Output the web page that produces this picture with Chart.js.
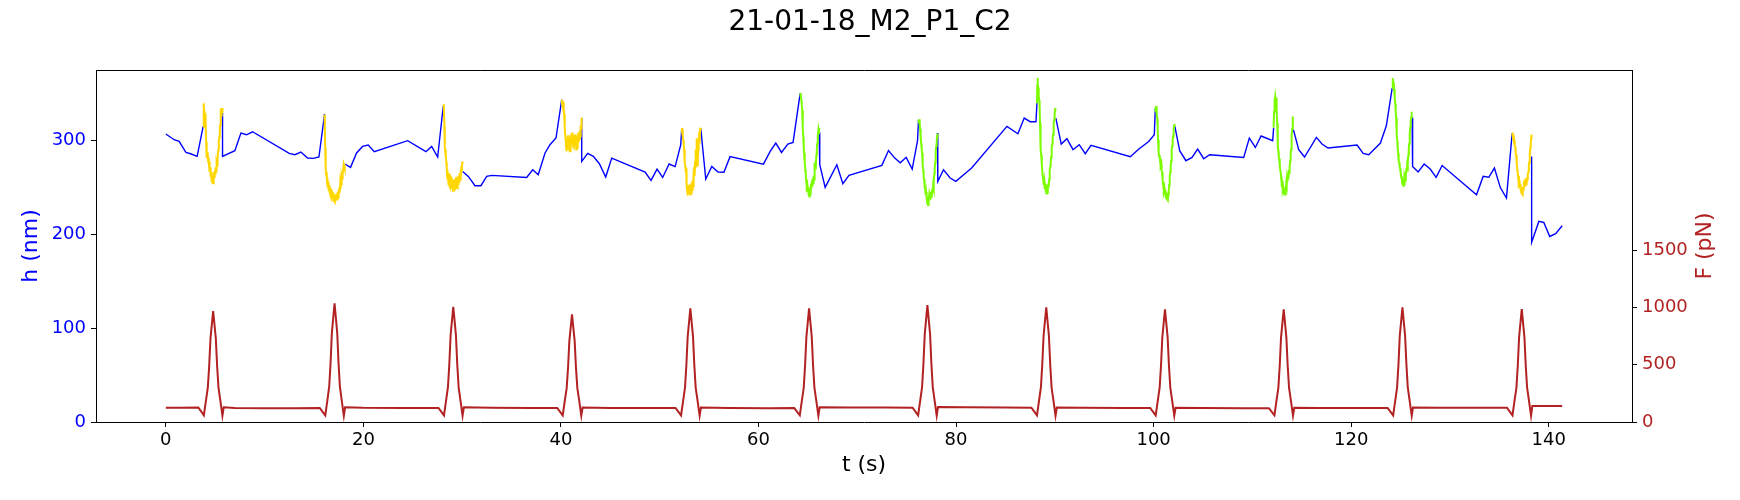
<!DOCTYPE html>
<html><head><meta charset="utf-8">
<script src="https://cdn.jsdelivr.net/npm/chart.js@4.4.1/dist/chart.umd.min.js"></script>
<style>html,body{margin:0;padding:0;background:#fff}canvas{display:block}</style>
</head><body>
<canvas id="c" width="1740" height="500"></canvas>
<script>
const chartTitle = '21-01-18_M2_P1_C2';
const xLabel = 't (s)';
const hLabel = 'h (nm)';
const fLabel = 'F (pN)';
const xTicks = [0, 20, 40, 60, 80, 100, 120, 140];
const hTicks = [0, 100, 200, 300];
const fTicks = [0, 500, 1000, 1500];

// sparse height trace (blue), null = gap under a pulse
const hBlue = [
[0,306.4],[0.84,300.3],[1.35,298.5],[2.03,286.8],[2.5,285.4],[3.17,282.6],[3.78,314.5],[4.8,null],
[5.74,328.7],[5.74,282.6],[6.99,288.6],[7.6,307.4],[8.17,305.6],[8.78,308.8],[12.49,285.8],[13.06,284.4],[13.67,287.2],[14.35,280.8],[14.92,280.5],[15.5,281.9],[16.07,327.6],[17,null],
[18.13,274.5],[18.7,270.9],[19.31,286.2],[19.92,293.2],[20.49,294.7],[21.1,287.6],[24.48,299.3],[26.33,287.6],[26.91,293.2],[27.52,281.9],[28.09,336.5],[29,null],
[30.05,266.6],[30.62,261.3],[31.3,251.4],[31.9,251.4],[32.48,261.3],[33.0,262.4],[36.53,260.2],[37.14,268.4],[37.7,263.1],[38.39,286.2],[38.89,295],[39.5,302.1],[40.08,342.9],[41,null],
[42.1,323.4],[42.1,277.2],[42.71,285.8],[43.28,282.6],[43.89,274.8],[44.53,260.6],[45.14,280.8],[48.52,266],[49.12,257],[49.73,269.1],[50.3,260.2],[50.95,274.5],[51.56,271.7],[52.13,295],[52.23,312.8],[53,null],
[54.15,312.8],[54.66,258.5],[55.27,271.9],[55.9,266],[56.5,265.7],[57.12,282.3],[60.5,274.3],[61.18,287.9],[61.75,296.8],[62.33,286.8],[62.97,295.7],[63.5,297.5],[64.22,350],[65,null],
[66.14,308],[66.2,273.7],[66.75,249.6],[67.93,273.7],[68.54,253.5],[69.16,262.4],[72.49,273],[73.16,288.9],[73.77,281],[74.35,275.7],[74.95,281.6],[75.56,269.1],[76.1,299.3],[76.2,321.6],[77,null],
[78.12,307.4],[78.15,256],[78.73,268.4],[79.4,259.6],[79.98,256],[81.1,266],[81.6,270.6],[85.15,314.5],[86.26,306.7],[86.9,323.4],[87.5,319.5],[88.09,319.5],[88.19,339.4],[89,null],
[90.1,323.4],[90.65,295.7],[91.22,301.4],[91.84,289.7],[92.47,295],[93.08,285.4],[93.66,294.3],[97.64,282.2],[98.48,290.2],[99.5,298.5],[100.07,305.6],[100.17,334],[101,null],
[102.15,314.5],[102.64,288.6],[103.27,278],[103.89,281.5],[104.46,290.4],[105.07,280.1],[105.67,284.4],[109.12,281.5],[109.69,302.1],[110.3,292.1],[110.88,304.3],[112.05,299.3],[112.15,312.8],[113,null],
[114.15,311],[114.69,289.7],[115.28,281.9],[116.48,302.8],[117.05,295.7],[117.66,291.5],[120.6,294.7],[121.21,285.8],[121.78,284.4],[122.96,296.8],[123.56,315.2],[124.15,355.3],[125,null],
[126.17,324],[126.22,271.9],[126.78,266],[127.39,274.5],[128.0,269.1],[128.6,260.2],[129.21,272.9],[132.69,241.8],[133.36,261.3],[133.93,260.4],[134.5,270.2],[135.1,249.4],[135.72,238.3],[136.3,307.4],[137,null],
[138.27,282.6],[138.27,191.1],[139.0,213.4],[139.5,212.3],[140.1,197.4],[140.7,200.3],[141.36,208.8]
];

// dense height traces during force pulses
const hPulse1 = [[3.78,314],[3.82,330],[3.85,339],[3.88,326],[3.91,331],[3.95,322],[3.98,328],[4.01,313],[4.05,317],[4.08,298],[4.12,288],[4.15,281],[4.18,287],[4.22,280],[4.26,285],[4.3,276],[4.34,281],[4.38,272],[4.42,277],[4.46,266],[4.5,271],[4.54,261],[4.58,266],[4.62,256],[4.66,262],[4.7,255],[4.74,262],[4.78,254],[4.82,262],[4.86,257],[4.9,266],[4.94,260],[4.98,268],[5.02,263],[5.06,271],[5.1,267],[5.14,275],[5.18,273],[5.22,281],[5.26,282],[5.3,289],[5.34,292],[5.38,299],[5.42,303],[5.46,308],[5.5,316],[5.54,320],[5.58,328],[5.62,326],[5.66,334],[5.7,330],[5.74,334]];
const hPulse2 = [[16.07,327],[16.1,310],[16.13,292],[16.17,276],[16.2,270],[16.24,262],[16.28,266],[16.32,255],[16.36,259],[16.4,250],[16.44,255],[16.48,246],[16.52,252],[16.56,244],[16.6,251],[16.64,242],[16.68,249],[16.72,240],[16.76,247],[16.8,239],[16.84,245],[16.88,237],[16.92,244],[16.96,236],[17.0,243],[17.04,235],[17.08,242],[17.12,234],[17.16,241],[17.2,235],[17.24,242],[17.28,236],[17.32,243],[17.36,237],[17.4,245],[17.44,239],[17.48,247],[17.52,241],[17.56,249],[17.6,244],[17.64,252],[17.68,248],[17.72,256],[17.76,253],[17.8,261],[17.84,259],[17.88,266],[17.92,264],[17.96,270],[18.0,267],[18.04,273],[18.08,270],[18.13,274]];
const hPulse3 = [[28.09,336],[28.13,338],[28.16,334],[28.2,315],[28.23,300],[28.26,292],[28.3,286],[28.33,290],[28.36,282],[28.4,276],[28.44,270],[28.47,262],[28.5,268],[28.54,258],[28.57,265],[28.6,252],[28.64,262],[28.68,253],[28.72,264],[28.76,251],[28.8,262],[28.84,250],[28.88,260],[28.92,248],[28.96,259],[29.0,250],[29.04,258],[29.08,246],[29.12,257],[29.16,249],[29.2,258],[29.24,246],[29.28,256],[29.32,250],[29.36,260],[29.4,249],[29.44,261],[29.48,251],[29.52,259],[29.56,250],[29.6,261],[29.64,252],[29.68,262],[29.72,255],[29.76,265],[29.8,258],[29.84,268],[29.88,262],[29.92,272],[29.96,266],[30.0,276],[30.05,277]];
const hPulse4 = [[40.08,343],[40.12,338],[40.16,342],[40.2,335],[40.24,340],[40.28,333],[40.32,328],[40.36,318],[40.4,314],[40.44,304],[40.48,300],[40.52,292],[40.56,298],[40.6,288],[40.64,302],[40.68,291],[40.72,305],[40.76,293],[40.8,304],[40.84,289],[40.88,300],[40.92,288],[40.96,302],[41.0,292],[41.04,306],[41.08,295],[41.12,308],[41.16,296],[41.2,304],[41.24,293],[41.28,302],[41.32,292],[41.36,305],[41.4,296],[41.44,306],[41.48,293],[41.52,302],[41.56,290],[41.6,300],[41.64,292],[41.68,304],[41.72,295],[41.76,308],[41.8,298],[41.84,306],[41.88,300],[41.92,310],[41.96,304],[42.0,316],[42.04,312],[42.08,322],[42.1,324]];
const hPulse5 = [[52.23,313],[52.27,308],[52.31,312],[52.35,304],[52.39,300],[52.43,296],[52.47,290],[52.51,282],[52.55,276],[52.59,272],[52.63,266],[52.67,270],[52.7,258],[52.74,252],[52.78,246],[52.82,252],[52.86,241],[52.9,250],[52.94,243],[52.98,252],[53.02,245],[53.06,253],[53.1,242],[53.14,250],[53.18,244],[53.22,255],[53.26,247],[53.3,256],[53.34,246],[53.38,254],[53.42,250],[53.46,266],[53.5,272],[53.54,262],[53.58,278],[53.62,270],[53.66,290],[53.7,282],[53.74,302],[53.78,286],[53.82,278],[53.86,272],[53.9,290],[53.94,296],[53.98,304],[54.02,309],[54.06,302],[54.1,312],[54.15,313]];
const hPulse6 = [[64.22,350],[64.26,346],[64.3,349],[64.34,342],[64.38,338],[64.42,332],[64.46,322],[64.5,312],[64.54,302],[64.58,292],[64.62,286],[64.66,278],[64.7,276],[64.74,268],[64.78,264],[64.82,258],[64.86,256],[64.9,250],[64.94,252],[64.98,245],[65.02,249],[65.06,241],[65.1,247],[65.14,240],[65.18,248],[65.22,242],[65.26,251],[65.3,245],[65.34,254],[65.38,249],[65.42,257],[65.46,251],[65.5,259],[65.54,254],[65.58,262],[65.62,258],[65.66,270],[65.7,276],[65.74,270],[65.78,278],[65.82,272],[65.86,284],[65.9,290],[65.94,296],[65.98,300],[66.02,304],[66.06,310],[66.1,306],[66.14,313]];
const hPulse7 = [[76.2,321],[76.24,318],[76.28,322],[76.32,316],[76.36,312],[76.4,306],[76.44,302],[76.48,296],[76.52,290],[76.56,286],[76.6,280],[76.64,273],[76.68,268],[76.72,262],[76.76,258],[76.8,254],[76.84,250],[76.88,247],[76.92,242],[76.96,245],[77.0,238],[77.04,241],[77.08,233],[77.12,238],[77.16,231],[77.2,239],[77.24,234],[77.28,241],[77.32,236],[77.36,243],[77.4,238],[77.44,245],[77.48,240],[77.52,246],[77.56,241],[77.6,248],[77.64,244],[77.68,251],[77.72,248],[77.76,258],[77.8,264],[77.84,270],[77.88,276],[77.92,282],[77.96,288],[78.0,294],[78.04,298],[78.08,304],[78.12,307]];
const hPulse8 = [[88.19,339],[88.22,358],[88.25,366],[88.28,360],[88.31,356],[88.35,352],[88.38,346],[88.42,342],[88.46,336],[88.5,318],[88.54,302],[88.58,290],[88.62,284],[88.66,276],[88.7,274],[88.74,266],[88.78,266],[88.82,258],[88.86,261],[88.9,252],[88.94,256],[88.98,248],[89.02,253],[89.06,245],[89.1,250],[89.14,243],[89.18,250],[89.22,244],[89.26,252],[89.3,246],[89.34,254],[89.38,250],[89.42,258],[89.46,262],[89.5,268],[89.54,272],[89.58,276],[89.62,282],[89.66,286],[89.7,292],[89.74,296],[89.78,302],[89.82,306],[89.86,312],[89.9,318],[89.94,322],[89.98,328],[90.02,332],[90.05,334]];
const hPulse9 = [[100.17,334],[100.21,330],[100.25,336],[100.29,332],[100.33,328],[100.37,322],[100.41,314],[100.45,300],[100.49,290],[100.53,286],[100.57,282],[100.61,284],[100.65,278],[100.69,280],[100.73,273],[100.77,275],[100.81,268],[100.85,266],[100.89,260],[100.93,258],[100.97,252],[101.01,254],[101.05,246],[101.09,249],[101.13,242],[101.17,246],[101.21,239],[101.25,245],[101.29,238],[101.33,244],[101.37,237],[101.41,243],[101.45,236],[101.49,242],[101.53,246],[101.57,252],[101.61,256],[101.65,262],[101.69,266],[101.73,272],[101.77,278],[101.81,284],[101.85,290],[101.89,294],[101.93,300],[101.97,304],[102.01,310],[102.05,312],[102.09,316],[102.12,317]];
const hPulse10 = [[112.15,313],[112.19,330],[112.23,344],[112.27,340],[112.31,346],[112.35,342],[112.39,345],[112.43,338],[112.47,332],[112.51,318],[112.55,304],[112.59,294],[112.63,288],[112.67,282],[112.71,280],[112.75,274],[112.79,273],[112.83,267],[112.87,266],[112.91,260],[112.95,259],[112.99,253],[113.03,254],[113.07,248],[113.11,250],[113.15,244],[113.19,248],[113.23,242],[113.27,247],[113.31,242],[113.35,248],[113.39,246],[113.43,254],[113.47,252],[113.51,260],[113.55,256],[113.59,264],[113.63,260],[113.67,268],[113.71,265],[113.75,272],[113.79,272],[113.83,278],[113.87,284],[113.91,290],[113.95,298],[113.99,304],[114.03,312],[114.07,318],[114.11,325]];
const hPulse11 = [[124.15,355],[124.19,362],[124.23,366],[124.27,360],[124.31,362],[124.35,354],[124.39,352],[124.43,344],[124.47,338],[124.51,330],[124.55,324],[124.59,314],[124.63,306],[124.67,298],[124.71,292],[124.75,286],[124.79,283],[124.83,278],[124.87,276],[124.91,271],[124.95,270],[124.99,265],[125.03,266],[125.07,260],[125.11,262],[125.15,256],[125.19,259],[125.23,252],[125.27,257],[125.31,250],[125.35,256],[125.39,252],[125.43,260],[125.47,257],[125.51,266],[125.55,262],[125.59,270],[125.63,266],[125.67,274],[125.71,272],[125.75,278],[125.79,284],[125.83,290],[125.87,296],[125.91,302],[125.95,308],[125.99,314],[126.03,320],[126.07,324],[126.11,330],[126.14,328]];
const hPulse12 = [[136.3,307],[136.34,304],[136.38,308],[136.42,302],[136.46,305],[136.5,298],[136.54,300],[136.58,294],[136.62,292],[136.66,286],[136.7,284],[136.74,278],[136.78,275],[136.82,268],[136.86,266],[136.9,260],[136.94,262],[136.98,254],[137.02,256],[137.06,249],[137.1,253],[137.14,246],[137.18,251],[137.22,244],[137.26,250],[137.3,243],[137.34,249],[137.38,242],[137.42,250],[137.46,246],[137.5,256],[137.54,250],[137.58,258],[137.62,252],[137.66,259],[137.7,253],[137.74,260],[137.78,254],[137.82,258],[137.86,260],[137.9,264],[137.94,266],[137.98,272],[138.02,276],[138.06,282],[138.1,286],[138.14,292],[138.18,296],[138.22,302],[138.26,306]];

// force trace (right axis)
const force = [
[0,124],[1.5,125],
[3.29,127],[3.85,58],[4.05,180],[4.25,300],[4.39,490],[4.52,730],[4.79,968],[5.06,730],[5.19,490],[5.33,300],[5.53,180],[5.73,55],[5.86,128],[7,122],[10,120],[13,121],
[15.58,123],[16.14,58],[16.34,180],[16.54,310],[16.68,520],[16.81,780],[17.08,1035],[17.35,780],[17.48,520],[17.62,310],[17.82,180],[18.02,55],[18.15,128],[20,124],[24,123],
[27.6,122],[28.16,58],[28.36,180],[28.56,305],[28.7,505],[28.83,757],[29.1,1005],[29.37,757],[29.5,505],[29.64,305],[29.84,180],[30.04,55],[30.17,128],[33,125],[37,123],
[39.62,122],[40.18,58],[40.38,180],[40.58,295],[40.72,475],[40.85,705],[41.12,938],[41.39,705],[41.52,475],[41.66,295],[41.86,180],[42.06,55],[42.19,126],[45,123],[49,122],
[51.6,122],[52.16,58],[52.36,180],[52.56,300],[52.7,500],[52.83,745],[53.1,991],[53.37,745],[53.5,500],[53.64,300],[53.84,180],[54.04,55],[54.17,126],[57,122],[61,120],
[63.62,121],[64.18,58],[64.38,180],[64.58,300],[64.72,500],[64.85,745],[65.12,991],[65.39,745],[65.52,500],[65.66,300],[65.86,180],[66.06,55],[66.19,128],[69,126],[73,126],
[75.6,125],[76.16,58],[76.36,180],[76.56,305],[76.7,512],[76.83,766],[77.1,1020],[77.37,766],[77.5,512],[77.64,305],[77.84,180],[78.04,55],[78.17,130],[81,128],[85,126],
[87.63,124],[88.19,58],[88.39,180],[88.59,302],[88.73,505],[88.86,752],[89.13,1000],[89.4,752],[89.53,505],[89.67,302],[89.87,180],[90.07,55],[90.2,126],[93,124],[97,122],
[99.65,122],[100.21,58],[100.41,180],[100.61,300],[100.75,495],[100.88,738],[101.15,982],[101.42,738],[101.55,495],[101.69,300],[101.89,180],[102.09,55],[102.22,124],[105,122],[109,121],
[111.67,121],[112.23,58],[112.43,180],[112.63,300],[112.77,495],[112.9,738],[113.17,982],[113.44,738],[113.57,495],[113.71,300],[113.91,180],[114.11,55],[114.24,124],[117,123],[121,122],
[123.69,122],[124.25,58],[124.45,180],[124.65,302],[124.79,505],[124.92,752],[125.19,1000],[125.46,752],[125.59,505],[125.73,302],[125.93,180],[126.13,55],[126.26,126],[129,125],[133,124],
[135.77,124],[136.33,58],[136.53,180],[136.73,300],[136.87,497],[137.0,740],[137.27,985],[137.54,740],[137.67,497],[137.81,300],[138.01,180],[138.21,55],[138.34,140],[140,139],[141.36,140]
];

const goldPulses = [hPulse1, hPulse2, hPulse3, hPulse4, hPulse5, hPulse12];
const greenPulses = [hPulse6, hPulse7, hPulse8, hPulse9, hPulse10, hPulse11];

const toPts = a => a.map(p => ({x: p[0], y: p[1]}));
Chart.defaults.font.family = "'DejaVu Sans', sans-serif";

const datasets = [];
goldPulses.forEach(s => datasets.push({data: toPts(s), borderColor: '#ffd700', borderWidth: 2, yAxisID: 'yH', order: 0}));
greenPulses.forEach(s => datasets.push({data: toPts(s), borderColor: '#7cfc00', borderWidth: 2, yAxisID: 'yH', order: 0}));
datasets.push({data: toPts(hBlue), borderColor: '#0000ff', borderWidth: 1.4, yAxisID: 'yH', order: 1, spanGaps: false});
datasets.push({data: toPts(force), borderColor: '#b22222', borderWidth: 2, yAxisID: 'yF', order: 2});

const framePlugin = {
  id: 'frame',
  afterDraw(chart) {
    const {ctx, chartArea: a} = chart;
    ctx.save();
    ctx.strokeStyle = '#000';
    ctx.lineWidth = 1;
    const y = Math.round(a.top) + 0.5;
    ctx.beginPath(); ctx.moveTo(a.left, y); ctx.lineTo(a.right + 0.5, y); ctx.stroke();
    ctx.fillStyle = '#b22222';
    ctx.font = "22px 'DejaVu Sans'";
    ctx.translate(a.right + 73, (a.top + a.bottom) / 2);
    ctx.rotate(-Math.PI / 2);
    ctx.textAlign = 'center';
    ctx.textBaseline = 'middle';
    ctx.fillText(fLabel, 0, 0);
    ctx.restore();
  }
};

const tickSetter = arr => s => { s.ticks = arr.map(v => ({value: v})); };

new Chart(document.getElementById('c'), {
  type: 'line',
  data: {datasets},
  plugins: [framePlugin],
  options: {
    responsive: false, animation: false, devicePixelRatio: 1,
    layout: {padding: 0},
    elements: {point: {radius: 0}, line: {tension: 0}},
    plugins: {
      legend: {display: false}, tooltip: {enabled: false},
      title: {display: true, text: chartTitle, color: '#000', font: {size: 28, weight: 'normal'}, padding: {top: 6, bottom: 30.4}}
    },
    scales: {
      x: {
        type: 'linear', position: 'bottom', min: -7.07, max: 148.43,
        afterBuildTicks: tickSetter(xTicks),
        afterFit: s => { s.height = 78; },
        grid: {drawOnChartArea: false, color: '#000', tickLength: 5, tickWidth: 1},
        border: {display: true, color: '#000', width: 1},
        ticks: {color: '#000', font: {size: 18}, padding: 3, maxRotation: 0, autoSkip: false, callback: v => String(v)},
        title: {display: true, text: xLabel, color: '#000', font: {size: 22}, padding: {top: 0, bottom: 21.4}}
      },
      yH: {
        type: 'linear', position: 'left', min: 0, max: 374.5,
        afterBuildTicks: tickSetter(hTicks),
        afterFit: s => { s.width = 96; },
        grid: {drawOnChartArea: false, color: '#000', tickLength: 5, tickWidth: 1},
        border: {display: true, color: '#000', width: 1},
        ticks: {color: '#0000ff', font: {size: 18}, padding: 5, autoSkip: false, callback: v => String(v)},
        title: {display: true, text: hLabel, color: '#0000ff', font: {size: 22}, padding: {top: 17.8, bottom: 0}}
      },
      yF: {
        type: 'linear', position: 'right', min: 0, max: 3070,
        afterBuildTicks: tickSetter(fTicks),
        afterFit: s => { s.width = 108; },
        grid: {drawOnChartArea: false, color: '#000', tickLength: 5, tickWidth: 1},
        border: {display: true, color: '#000', width: 1},
        ticks: {color: '#b22222', font: {size: 18}, padding: 5, autoSkip: false, callback: v => String(v)},
        title: {display: false, text: fLabel}
      }
    }
  }
});
</script>
</body></html>
